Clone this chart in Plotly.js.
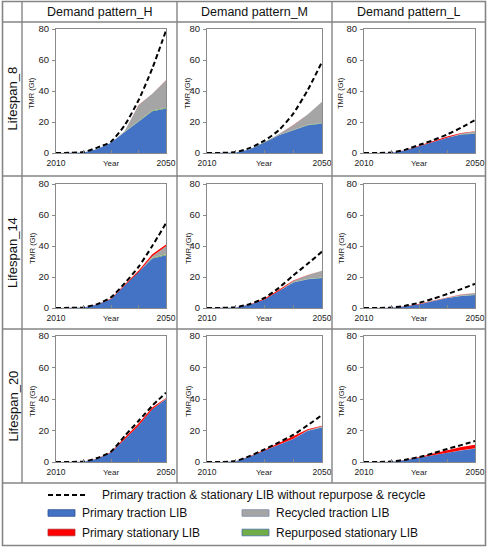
<!DOCTYPE html>
<html>
<head>
<meta charset="utf-8">
<script src="https://cdn.plot.ly/plotly-3.0.1.min.js"></script>
<style>html,body{margin:0;padding:0;background:#fff;}#chart{width:490px;height:550px;}</style>
</head>
<body>
<div id="chart"></div>
<script>
// ---------- data ----------
const years = [2010, 2015, 2020, 2025, 2030, 2035, 2040, 2045, 2050];
const demandPatterns = ['Demand pattern_H', 'Demand pattern_M', 'Demand pattern_L'];
const lifespans = ['Lifespan_8', 'Lifespan_14', 'Lifespan_20'];
const yTicks = [0, 20, 40, 60, 80];
const xTickVals = [2010, 2020, 2030, 2040, 2050];
const xTickText = ['2010', '', '', '', '2050'];
const seriesNames = ['Primary traction LIB', 'Repurposed stationary LIB', 'Recycled traction LIB', 'Primary stationary LIB'];
const dashedName = 'Primary traction & stationary LIB without repurpose & recycle';

// Lifespan 8
const dashed_H8 = [0, 0.1, 0.6, 3.5, 7.3, 18, 34, 54.5, 79];
const traction_H8 = [0, 0.05, 0.4, 2.6, 6.6, 13.6, 20.5, 27, 28.7];
const stationary_H8 = [0, 0, 0, 0, 0, 0, 0.1, 0.1, 0.1];
const repurposed_H8 = [0, 0, 0, 0, 0, 0.1, 0.3, 0.4, 0.5];
const recycled_H8 = [0, 0, 0, 0, 0, 0.5, 10, 10.8, 17.6];

const dashed_M8 = [0, 0.1, 0.6, 3.3, 8.0, 14.7, 25.4, 40.5, 58.8];
const traction_M8 = [0, 0.05, 0.4, 2.5, 6.7, 11.4, 14.7, 17.9, 19];
const stationary_M8 = [0, 0, 0, 0, 0.1, 0.1, 0.1, 0, 0];
const repurposed_M8 = [0, 0, 0, 0, 0, 0.1, 0.2, 0.3, 0.3];
const recycled_M8 = [0, 0, 0, 0, 0.2, 0.7, 3, 6.6, 13.7];

const dashed_L8 = [0, 0.05, 0.3, 2.2, 5.3, 8.3, 12, 16.3, 21.3];
const traction_L8 = [0, 0, 0.2, 1.8, 4.5, 7.3, 9.8, 12, 12.5];
const stationary_L8 = [0, 0, 0, 0.2, 0.5, 0.7, 0.6, 0.3, 0.2];
const repurposed_L8 = [0, 0, 0, 0, 0, 0, 0.1, 0.1, 0.2];
const recycled_L8 = [0, 0, 0, 0, 0, 0, 0.1, 0.5, 1.2];

// Lifespan 14
const dashed_H14 = [0, 0.1, 0.4, 2.5, 6.9, 16, 26.5, 40, 54.7];
const traction_H14 = [0, 0.05, 0.3, 2.2, 5.8, 14.6, 23, 32, 34];
const stationary_H14 = [0, 0, 0, 0.2, 0.4, 0.7, 1, 1.2, 1.1];
const repurposed_H14 = [0, 0, 0, 0, 0, 0, 0.1, 0.4, 0.6];
const recycled_H14 = [0, 0, 0, 0, 0, 0, 0, 1, 5.3];

const dashed_M14 = [0, 0.1, 0.5, 2.6, 6.5, 13, 21, 28.5, 36.4];
const traction_M14 = [0, 0.05, 0.4, 2.2, 5.5, 11, 16.5, 18.5, 19.4];
const stationary_M14 = [0, 0, 0, 0.2, 0.6, 0.7, 0.3, 0.1, 0.1];
const repurposed_M14 = [0, 0, 0, 0, 0, 0, 0.1, 0.2, 0.3];
const recycled_M14 = [0, 0, 0, 0, 0, 0, 0.8, 2.5, 4.3];

const dashed_L14 = [0, 0.05, 0.3, 1.5, 3.4, 6, 9, 12.2, 15.6];
const traction_L14 = [0, 0, 0.2, 1.2, 2.5, 4.5, 6.5, 7.8, 8.4];
const stationary_L14 = [0, 0, 0, 0.1, 0.2, 0.2, 0.1, 0.1, 0.1];
const repurposed_L14 = [0, 0, 0, 0, 0, 0, 0, 0.1, 0.1];
const recycled_L14 = [0, 0, 0, 0, 0, 0.1, 0.3, 0.7, 1.1];

// Lifespan 20
const dashed_H20 = [0, 0.05, 0.3, 2.5, 6.6, 16.6, 26, 35.7, 44];
const traction_H20 = [0, 0, 0.2, 2.1, 6, 14.4, 23, 33.5, 40];
const stationary_H20 = [0, 0, 0, 0.2, 0.4, 1.1, 1.4, 1.1, 0.4];
const repurposed_H20 = [0, 0, 0, 0, 0, 0, 0, 0, 0.1];
const recycled_H20 = [0, 0, 0, 0, 0, 0, 0, 0, 0.2];

const dashed_M20 = [0, 0.05, 0.6, 3.9, 8, 12.5, 17.2, 23.3, 29.8];
const traction_M20 = [0, 0, 0.5, 3.5, 7.3, 10.8, 14.6, 19.8, 21.9];
const stationary_M20 = [0, 0, 0, 0.3, 0.5, 1.1, 1.6, 0.6, 0.3];
const repurposed_M20 = [0, 0, 0, 0, 0, 0, 0, 0.1, 0.1];
const recycled_M20 = [0, 0, 0, 0, 0, 0, 0.1, 0.3, 0.7];

const dashed_L20 = [0, 0.05, 0.3, 1.5, 3.2, 5.6, 8.3, 10.7, 13.3];
const traction_L20 = [0, 0, 0.2, 1.2, 2.6, 4.3, 5.8, 7.3, 8.6];
const stationary_L20 = [0, 0, 0, 0.2, 0.5, 1.1, 1.7, 2.1, 2.1];
const repurposed_L20 = [0, 0, 0, 0, 0, 0, 0, 0, 0];
const recycled_L20 = [0, 0, 0, 0, 0, 0, 0, 0.1, 0.2];

// ---------- layout helpers ----------
const W = 490, H = 550;
const px = x => x / W;
const py = y => 1 - y / H;
const FONT = 'Liberation Sans, Arial, sans-serif';
const colors = {traction: '#4472C4', repurposed: '#70AD47', recycled: '#A5A5A5', stationary: '#FF0000'};
const frameColor = '#8a8a8a';
const tableColor = '#858585';
const DASH = '5px,3px';

const colX = [[56, 166], [207, 322], [364, 475]];
const rowY = [[29, 153], [184, 308], [336, 462]];
const ytitleOff = [-24, -19, -23];

const grid = [
  [[dashed_H8, traction_H8, repurposed_H8, recycled_H8, stationary_H8],
   [dashed_M8, traction_M8, repurposed_M8, recycled_M8, stationary_M8],
   [dashed_L8, traction_L8, repurposed_L8, recycled_L8, stationary_L8]],
  [[dashed_H14, traction_H14, repurposed_H14, recycled_H14, stationary_H14],
   [dashed_M14, traction_M14, repurposed_M14, recycled_M14, stationary_M14],
   [dashed_L14, traction_L14, repurposed_L14, recycled_L14, stationary_L14]],
  [[dashed_H20, traction_H20, repurposed_H20, recycled_H20, stationary_H20],
   [dashed_M20, traction_M20, repurposed_M20, recycled_M20, stationary_M20],
   [dashed_L20, traction_L20, repurposed_L20, recycled_L20, stationary_L20]]
];

const traces = [];
const layout = {
  width: W, height: H,
  margin: {l: 0, r: 0, t: 0, b: 0},
  paper_bgcolor: '#fff', plot_bgcolor: '#fff',
  showlegend: false,
  font: {family: FONT, color: '#222'},
  annotations: [], shapes: []
};

let k = 0;
for (let r = 0; r < 3; r++) {
  for (let c = 0; c < 3; c++) {
    k++;
    const sfx = k === 1 ? '' : String(k);
    const xa = 'x' + sfx, ya = 'y' + sfx;
    const [dashed, traction, repurposed, recycled, stationary] = grid[r][c];
    const sg = 'stack' + k;
    const parts = [
      [traction, colors.traction, seriesNames[0]],
      [repurposed, colors.repurposed, seriesNames[1]],
      [recycled, colors.recycled, seriesNames[2]],
      [stationary, colors.stationary, seriesNames[3]]
    ];
    parts.forEach(([vals, col, name]) => {
      traces.push({
        type: 'scatter', mode: 'lines', x: years, y: vals, name: name,
        xaxis: xa, yaxis: ya, stackgroup: sg,
        line: {width: 0, color: col}, fillcolor: col, hoverinfo: 'skip'
      });
    });
    traces.push({
      type: 'scatter', mode: 'lines', x: years, y: dashed, name: dashedName,
      xaxis: xa, yaxis: ya,
      line: {color: '#000', width: 2, dash: DASH, shape: 'spline', smoothing: 0.6},
      hoverinfo: 'skip'
    });

    const [x0, x1] = colX[c];
    const [y0, y1] = rowY[r];
    layout['xaxis' + sfx] = {
      domain: [px(x0), px(x1)], anchor: ya, range: [2010, 2050],
      tickvals: xTickVals, ticktext: xTickText,
      ticks: 'inside', ticklen: 3, tickwidth: 1, tickcolor: frameColor,
      showline: true, mirror: true, linecolor: frameColor, linewidth: 1,
      showgrid: false, zeroline: false, fixedrange: true,
      tickfont: {size: 8.5, family: FONT, color: '#222'}, ticklabelstandoff: 2
    };
    layout['yaxis' + sfx] = {
      domain: [py(y1), py(y0)], anchor: xa, range: [0, 80],
      tickvals: yTicks,
      ticks: 'outside', ticklen: 3, tickwidth: 1, tickcolor: frameColor,
      showline: true, mirror: true, linecolor: frameColor, linewidth: 1,
      showgrid: false, zeroline: false, fixedrange: true,
      tickfont: {size: 9.5, family: FONT, color: '#222'}, ticklabelstandoff: 1
    };
    layout.annotations.push({
      text: 'Year', xref: 'paper', yref: 'paper',
      x: px((x0 + x1) / 2), y: py(y1 + 10), xanchor: 'center', yanchor: 'middle',
      showarrow: false, font: {size: 8, family: FONT, color: '#222'}
    });
    layout.annotations.push({
      text: 'TMR (Gt)', xref: 'paper', yref: 'paper', textangle: -90,
      x: px(x0 + ytitleOff[c]), y: py((y0 + y1) / 2 + 2), xanchor: 'center', yanchor: 'middle',
      showarrow: false, font: {size: 7.5, family: FONT, color: '#222'}
    });
  }
}

// ---------- table lines ----------
const L = (xa, ya, xb, yb, w) => ({type: 'line', xref: 'paper', yref: 'paper',
  x0: px(xa), y0: py(ya), x1: px(xb), y1: py(yb), line: {color: tableColor, width: w || 1.4}});
layout.shapes.push({type: 'rect', xref: 'paper', yref: 'paper', x0: px(2.5), x1: px(485.5), y0: py(545.5), y1: py(1.5),
  line: {color: tableColor, width: 1.6}, fillcolor: 'rgba(0,0,0,0)'});
layout.shapes.push(L(22, 1.5, 22, 483));
layout.shapes.push(L(177, 1.5, 177, 483));
layout.shapes.push(L(332, 1.5, 332, 483));
layout.shapes.push(L(2.5, 22, 485.5, 22));
layout.shapes.push(L(2.5, 176, 485.5, 176));
layout.shapes.push(L(2.5, 329, 485.5, 329));
layout.shapes.push(L(2.5, 483, 485.5, 483));

const colCenters = [99.5, 254.5, 409];
demandPatterns.forEach((t, i) => layout.annotations.push({
  text: t, xref: 'paper', yref: 'paper', x: px(colCenters[i]), y: py(12),
  xanchor: 'center', yanchor: 'middle', showarrow: false,
  font: {size: 12.5, family: FONT, color: '#111'}
}));
const rowCenters = [99, 252.5, 406];
lifespans.forEach((t, i) => layout.annotations.push({
  text: t, xref: 'paper', yref: 'paper', x: px(12.5), y: py(rowCenters[i]), textangle: -90,
  xanchor: 'center', yanchor: 'middle', showarrow: false,
  font: {size: 13, family: FONT, color: '#111'}
}));

// ---------- legend ----------
layout.shapes.push({type: 'line', xref: 'paper', yref: 'paper', x0: px(48), x1: px(88), y0: py(495), y1: py(495),
  line: {color: '#000', width: 2, dash: DASH}});
layout.annotations.push({text: dashedName, xref: 'paper', yref: 'paper', x: px(100), y: py(495),
  xanchor: 'left', yanchor: 'middle', showarrow: false, font: {size: 12, family: FONT, color: '#111'}});
const legItems = [
  [seriesNames[0], colors.traction, '#2F528F', 48, 513],
  [seriesNames[2], colors.recycled, '#7f8ea8', 242, 513],
  [seriesNames[3], colors.stationary, '#b03030', 48, 532.5],
  [seriesNames[1], colors.repurposed, '#4a6fa8', 242, 532.5]
];
legItems.forEach(([name, col, border, x, y]) => {
  layout.shapes.push({type: 'rect', xref: 'paper', yref: 'paper', x0: px(x), x1: px(x + 27),
    y0: py(y + 3.3), y1: py(y - 3.3), fillcolor: col, line: {color: border, width: 0.8}});
  layout.annotations.push({text: name, xref: 'paper', yref: 'paper', x: px(x + 32), y: py(y),
    xanchor: 'left', yanchor: 'middle', showarrow: false, font: {size: 12, family: FONT, color: '#111'}});
});

Plotly.newPlot('chart', traces, layout, {staticPlot: true, displayModeBar: false});
</script>
</body>
</html>
